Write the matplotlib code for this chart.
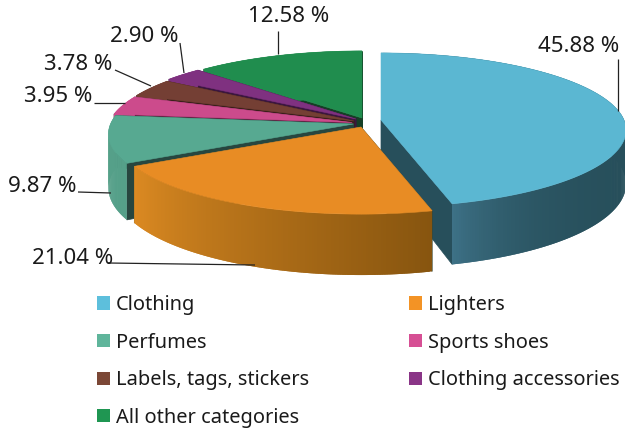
import numpy as np
import matplotlib
matplotlib.use("Agg")
import matplotlib.pyplot as plt
from matplotlib.colors import to_rgb
from matplotlib.patches import Patch, Polygon

categories = ["Clothing", "Lighters", "Perfumes", "Sports shoes",
              "Labels, tags, stickers", "Clothing accessories", "All other categories"]
shares = [45.88, 21.04, 9.87, 3.95, 3.78, 2.90, 12.58]

legend_colors = ["#5dbfdc", "#f39325", "#5fb59b", "#d64f94", "#7b4736", "#8a3587", "#1f9652"]
top_colors = ["#5bb7d2", "#e88c24", "#57a991", "#cc4b8c", "#743f34", "#7f3180", "#208d4e"]
face_colors = ["#274f5b", "#27463f", "#27463f", "#5c2040", "#3a1f1a", "#3c1640", "#153f26"]
# wall colour at the start and the end of each slice's sweep
wall_start = ["#274f5b", "#87550f", "#55a089", "#cc4b8c", "#743f34", "#7f3180", "#208d4e"]
wall_end = ["#3d7186", "#dc8a22", "#55a089", "#cc4b8c", "#743f34", "#7f3180", "#208d4e"]

# each slice is pulled out a bit, pixel position of its tip
centers = [(381, 120), (361, 127), (353.5, 124), (352, 122.5), (354, 121), (356, 119), (362, 118)]
draw_order = [6, 5, 4, 3, 2, 0, 1]

RX, RY, PERSP, DEPTH = 243, 75.8, 0.13, 53

label_spots = [(579, 46), (73, 258), (42.5, 186), (58, 97), (78, 64), (144.5, 36), (289, 17)]
leaders = [((618, 618), (59, 111)), ((108, 255), (263, 265)), ((78, 111), (192, 193)),
           ((94, 125), (103, 103)), ((115, 151), (70, 86)), ((180, 184), (43, 73)),
           ((278, 278), (31, 54))]

FONT = "Noto Sans"
TEXT = "#1a1a1a"


def project(center, deg, drop=0.0):
    # clockwise from the top, with a slight perspective towards the viewer
    a = np.radians(deg)
    X, Y = np.sin(a), -np.cos(a)
    s = 1 / (1 - PERSP * Y)
    return center[0] + RX * X * s, center[1] + RY * Y * s + drop * DEPTH * s


fig = plt.figure(figsize=(6.25, 4.34), dpi=100)
ax = fig.add_axes([0, 0, 1, 1])
ax.set_xlim(0, 625)
ax.set_ylim(434, 0)
ax.axis("off")

edges = np.concatenate([[0], np.cumsum(shares)]) / sum(shares) * 360

for i in draw_order:
    c = centers[i]
    a0, a1 = edges[i], edges[i + 1]
    apex_low = (c[0], c[1] + DEPTH)

    # cut faces of the slice
    for a in (a0, a1):
        rim_top = project(c, a)
        rim_low = project(c, a, 1)
        ax.add_patch(Polygon([c, rim_top, rim_low, apex_low], closed=True,
                             fc=face_colors[i], ec=face_colors[i], lw=0.5))

    # outer wall, overlapping strips so the shading runs along the rim without seams
    steps = np.linspace(a0, a1, max(int(a1 - a0) * 2, 4))
    start, end = np.array(to_rgb(wall_start[i])), np.array(to_rgb(wall_end[i]))
    for j in range(len(steps) - 1):
        t = j / (len(steps) - 2)
        if i == 0:
            t = t ** 12
        col = tuple(start + (end - start) * t)
        far = steps[min(j + 2, len(steps) - 1)]
        ax.add_patch(Polygon([project(c, steps[j]), project(c, far),
                              project(c, far, 1), project(c, steps[j], 1)],
                             closed=True, fc=col, ec="none"))

    # top surface
    arc = np.linspace(a0, a1, 120)
    px, py = project(c, arc)
    ax.add_patch(Polygon([c] + list(zip(px, py)), closed=True,
                         fc=top_colors[i], ec=top_colors[i], lw=0.4))

for (lx, ly) in leaders:
    ax.plot(lx, ly, color="#222222", lw=0.9, solid_capstyle="butt")

for share, (tx, ty) in zip(shares, label_spots):
    ax.text(tx, ty, f"{share:.2f} %", ha="center", va="center", fontsize=16,
            family=FONT, color=TEXT)

order = [0, 2, 4, 6, 1, 3, 5]
handles = [Patch(fc=legend_colors[k], ec="none") for k in order]
ax.legend(handles, [categories[k] for k in order], ncol=2, frameon=False,
          loc="upper left", bbox_to_anchor=(97 / 625, 1 - 295 / 434),
          bbox_transform=ax.transAxes, borderaxespad=0, borderpad=0,
          handlelength=0.65, handleheight=0.65, handletextpad=0.3,
          labelspacing=0.88, columnspacing=5.0, labelcolor=TEXT,
          prop={"family": FONT, "size": 14.4})

fig.savefig("out.png", dpi=100)
